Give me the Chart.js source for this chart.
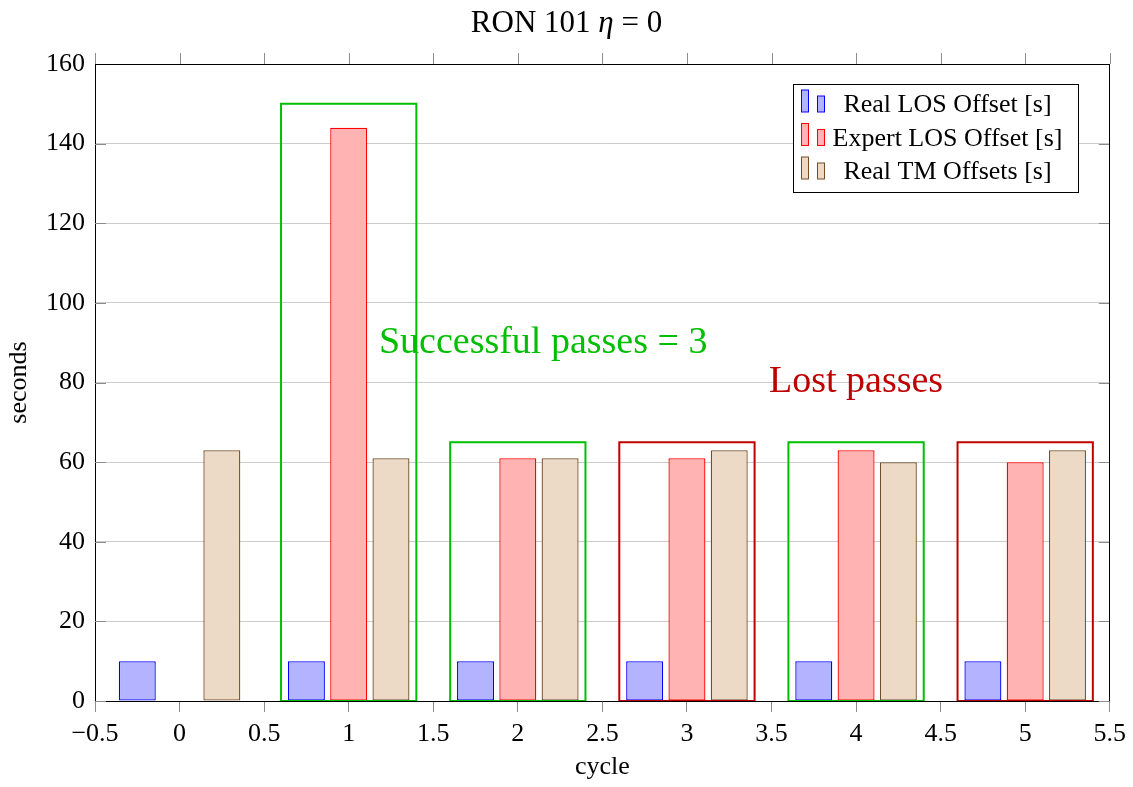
<!DOCTYPE html>
<html>
<head>
<meta charset="utf-8">
<script src="https://cdn.jsdelivr.net/npm/chart.js@4.4.1/dist/chart.umd.min.js"></script>
<style>
  html, body { margin: 0; padding: 0; background: #fff; }
  #wrap { width: 1133px; height: 787px; }
</style>
</head>
<body>
<div id="wrap"><canvas id="chart" width="1133" height="787"></canvas></div>
<script>
// dati
const cycles = [0, 1, 2, 3, 4, 5];
const realLos = [10, 10, 10, 10, 10, 10];
const expertLos = [0, 144, 61, 61, 63, 60];
const realTm = [63, 61, 61, 63, 60, 63];

// riquadri attorno ai passaggi
const passCycles = [1, 2, 3, 4, 5];
const passHeights = [150, 65, 65, 65, 65];
const passOk = [true, true, false, true, false];

const xTicks = [-0.5, 0, 0.5, 1, 1.5, 2, 2.5, 3, 3.5, 4, 4.5, 5, 5.5];
const yTicks = [0, 20, 40, 60, 80, 100, 120, 140, 160];

const notes = [
    { text: 'Successful passes = 3', x: 2.15, y: 90, color: 'rgb(0,191,0)' },
    { text: 'Lost passes', x: 4, y: 80, color: 'rgb(191,0,0)' }
];

// titolo: "RON 101 η = 0" (η in corsivo)
const titleParts = [
    { text: 'RON 101 ', italic: false },
    { text: '\u03B7', italic: true },
    { text: ' = 0', italic: false }
];

const SERIF = '"Liberation Serif", "DejaVu Serif", serif';
const GREEN = 'rgb(0,191,0)';
const DARKRED = 'rgb(191,0,0)';
const BOX_HALF = 0.4;

function bars(label, values, stroke, fill) {
    return {
        label: label,
        data: cycles.map((c, i) => ({ x: c, y: values[i] })),
        borderColor: stroke,
        backgroundColor: fill,
        borderWidth: 1.3,
        borderSkipped: false,
        categoryPercentage: 1.5,
        barPercentage: 0.875,
        order: 2
    };
}

const boxes = passCycles.map((c, i) => ({
    type: 'line',
    label: 'box' + c,
    isBox: true,
    data: [
        { x: c - BOX_HALF, y: 0 },
        { x: c - BOX_HALF, y: passHeights[i] },
        { x: c + BOX_HALF, y: passHeights[i] },
        { x: c + BOX_HALF, y: 0 },
        { x: c - BOX_HALF, y: 0 }
    ],
    borderColor: passOk[i] ? GREEN : DARKRED,
    borderWidth: 2,
    pointRadius: 0,
    fill: false,
    tension: 0,
    order: 1
}));

// cornice, tacche interne e tacche sopra
const framePlugin = {
    id: 'frame',
    beforeDatasetsDraw(chart) {
        const { ctx, chartArea: a, scales: { x, y } } = chart;
        ctx.save();
        ctx.lineWidth = 1;
        ctx.strokeStyle = '#8c8c8c';
        ctx.beginPath();
        y.ticks.forEach(t => {
            const py = Math.round(y.getPixelForValue(t.value)) + 0.5;
            ctx.moveTo(a.left, py); ctx.lineTo(a.left + 11, py);
            ctx.moveTo(a.right - 11, py); ctx.lineTo(a.right, py);
        });
        x.ticks.forEach(t => {
            const px = Math.round(x.getPixelForValue(t.value)) + 0.5;
            ctx.moveTo(px, a.top); ctx.lineTo(px, a.top - 11);
        });
        ctx.stroke();
        ctx.strokeStyle = '#000';
        ctx.beginPath();
        ctx.moveTo(a.left, Math.round(a.top) + 0.5);
        ctx.lineTo(a.right, Math.round(a.top) + 0.5);
        ctx.moveTo(Math.round(a.right) - 0.5, a.top);
        ctx.lineTo(Math.round(a.right) - 0.5, a.bottom);
        ctx.stroke();
        ctx.restore();
    }
};

const notesPlugin = {
    id: 'notes',
    afterDatasetsDraw(chart) {
        const { ctx, scales: { x, y } } = chart;
        ctx.save();
        ctx.font = '38px ' + SERIF;
        ctx.textAlign = 'center';
        ctx.textBaseline = 'middle';
        notes.forEach(n => {
            ctx.fillStyle = n.color;
            ctx.fillText(n.text, x.getPixelForValue(n.x), y.getPixelForValue(n.y));
        });
        ctx.restore();
    }
};

const titlePlugin = {
    id: 'mixedTitle',
    afterDraw(chart) {
        const ctx = chart.ctx;
        ctx.save();
        ctx.fillStyle = '#000';
        ctx.textBaseline = 'alphabetic';
        ctx.textAlign = 'left';
        const fontOf = p => (p.italic ? 'italic ' : '') + '31px ' + SERIF;
        let total = 0;
        titleParts.forEach(p => { ctx.font = fontOf(p); total += ctx.measureText(p.text).width; });
        let px = chart.width / 2 - total / 2;
        titleParts.forEach(p => {
            ctx.font = fontOf(p);
            ctx.fillText(p.text, px, 32);
            px += ctx.measureText(p.text).width;
        });
        ctx.restore();
    }
};

// legenda in stile pgfplots
const legendPlugin = {
    id: 'pgfLegend',
    afterDraw(chart) {
        const ctx = chart.ctx;
        const sets = chart.data.datasets.filter(d => !d.isBox);
        const left = 793.5, top = 84.5, w = 285, h = 108;
        ctx.save();
        ctx.fillStyle = '#fff';
        ctx.fillRect(left, top, w, h);
        ctx.strokeStyle = '#000';
        ctx.lineWidth = 1;
        ctx.strokeRect(left, top, w, h);
        ctx.font = '26px ' + SERIF;
        ctx.textAlign = 'center';
        ctx.textBaseline = 'alphabetic';
        sets.forEach((d, i) => {
            const base = 112 + i * 33.5;
            ctx.fillStyle = d.backgroundColor;
            ctx.strokeStyle = d.borderColor;
            ctx.fillRect(801.5, base - 22, 7, 22);
            ctx.strokeRect(801.5, base - 22, 7, 22);
            ctx.fillRect(817.5, base - 16, 7, 16);
            ctx.strokeRect(817.5, base - 16, 7, 16);
            ctx.fillStyle = '#000';
            ctx.fillText(d.label, 947.5, base);
        });
        ctx.restore();
    }
};

const fmt = v => {
    const r = Math.round(v * 10) / 10;
    return (r < 0 ? '\u2212' : '') + Math.abs(r);
};

new Chart(document.getElementById('chart'), {
    type: 'bar',
    data: {
        datasets: [
            bars('Real LOS Offset [s]', realLos, 'rgb(0,0,255)', 'rgb(179,179,255)'),
            bars('Expert LOS Offset [s]', expertLos, 'rgb(255,0,0)', 'rgb(255,179,179)'),
            bars('Real TM Offsets [s]', realTm, 'rgb(115,77,38)', 'rgb(236,217,198)')
        ].concat(boxes)
    },
    options: {
        responsive: false,
        animation: false,
        devicePixelRatio: 1,
        layout: { padding: { left: 0, right: 23, top: 64, bottom: 0 } },
        plugins: {
            legend: { display: false },
            tooltip: { enabled: false },
            title: { display: false }
        },
        scales: {
            x: {
                type: 'linear',
                min: -0.5,
                max: 5.5,
                offset: false,
                afterBuildTicks: s => { s.ticks = xTicks.map(v => ({ value: v })); },
                afterFit: s => { s.height = 86; },
                grid: {
                    offset: false,
                    drawOnChartArea: false,
                    drawTicks: true,
                    tickLength: 11,
                    tickColor: '#8c8c8c',
                    color: '#8c8c8c'
                },
                border: { color: '#000', width: 1 },
                ticks: {
                    autoSkip: false,
                    maxRotation: 0,
                    padding: 7,
                    color: '#000',
                    font: { family: SERIF, size: 26 },
                    callback: v => fmt(v)
                },
                title: {
                    display: true,
                    text: 'cycle',
                    color: '#000',
                    font: { family: SERIF, size: 26 },
                    padding: { top: 0, bottom: 4 }
                }
            },
            y: {
                min: 0,
                max: 160,
                afterBuildTicks: s => { s.ticks = yTicks.map(v => ({ value: v })); },
                afterFit: s => { s.width = 95; },
                grid: { color: '#cccccc', drawTicks: false },
                border: { color: '#000', width: 1 },
                ticks: {
                    padding: 10,
                    color: '#000',
                    font: { family: SERIF, size: 26 }
                },
                title: {
                    display: true,
                    text: 'seconds',
                    color: '#000',
                    font: { family: SERIF, size: 26 },
                    padding: { top: 4, bottom: 0 }
                }
            }
        }
    },
    plugins: [framePlugin, notesPlugin, titlePlugin, legendPlugin]
});
</script>
</body>
</html>
